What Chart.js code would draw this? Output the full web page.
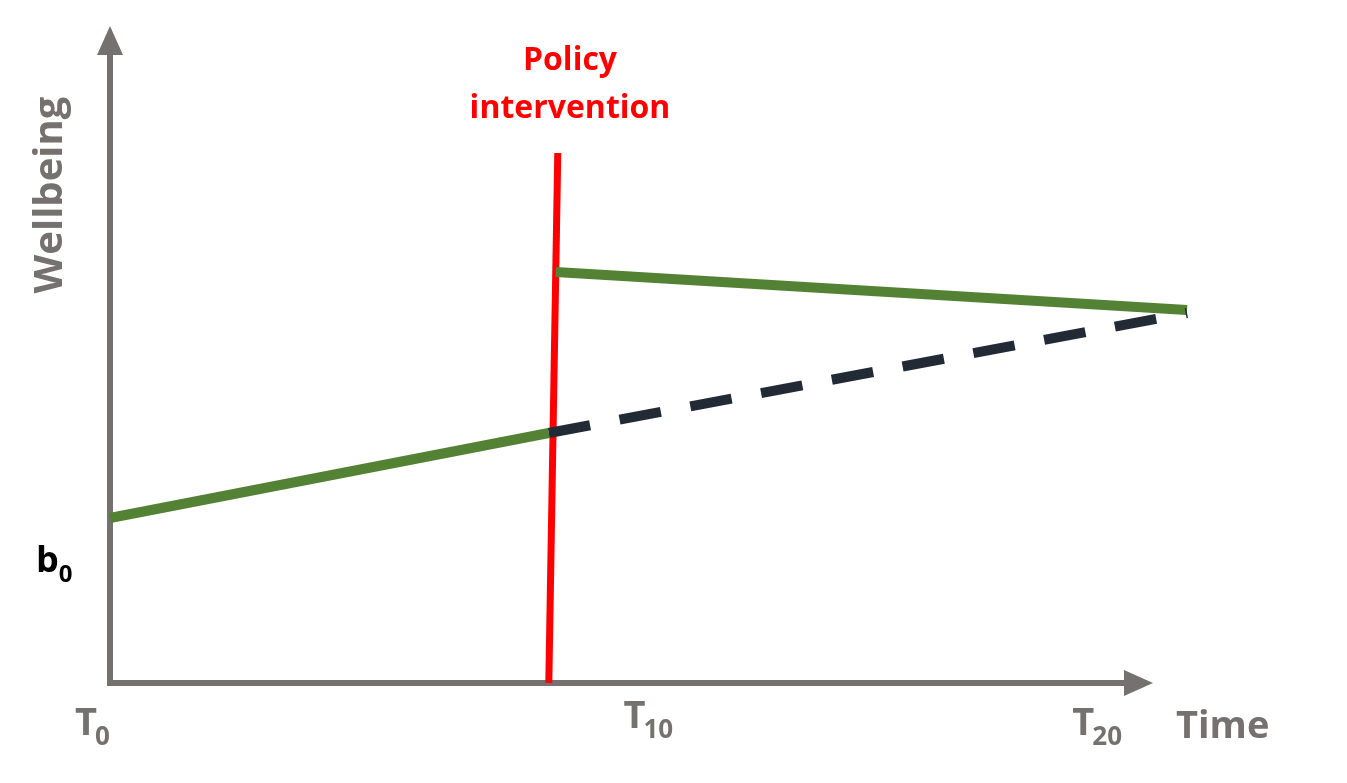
<!DOCTYPE html>
<html><head><meta charset="utf-8">
<script src="https://cdn.jsdelivr.net/npm/chart.js@4"></script>
<style>html,body{margin:0;padding:0;background:#fff}#w{width:1347px;height:783px}</style>
</head><body><div id="w"><canvas id="c"></canvas></div>
<script>
const preX = [0, 8.8];
const preY = [165, 250];
const postX = [8.94, 21.6];
const postY = [411, 373];
const cfX = [8.8, 21.6];
const cfY = [250, 370];
const policyX = [8.8, 8.98];
const policyY = [0, 530];
const tickVals = [0, 11, 20];
const tickMain = ['T', 'T', 'T'];
const tickSub = ['0', '10', '20'];
const xTitle = 'Time', yTitle = 'Wellbeing';
const policyLabel = ['Policy', 'intervention'];
const b0Value = 123;

const pts = (xs, ys) => xs.map((x, i) => ({x, y: ys[i]}));
const GRAY = '#767171';
const F = '"Open Sans", "Liberation Sans", sans-serif';

const deco = {
  id: 'deco',
  beforeDatasetsDraw(ch) {
    const c = ch.ctx, xs = ch.scales.x, ys = ch.scales.y;
    const x0 = xs.getPixelForValue(0), y0 = ys.getPixelForValue(0);
    c.save();
    c.strokeStyle = GRAY; c.fillStyle = GRAY; c.lineWidth = 6;
    c.beginPath(); c.moveTo(x0, y0); c.lineTo(x0, 50); c.stroke();
    c.beginPath(); c.moveTo(x0 - 3, y0); c.lineTo(1130, y0); c.stroke();
    c.beginPath(); c.moveTo(x0, 26); c.lineTo(x0 - 13, 55); c.lineTo(x0 + 13, 55); c.closePath(); c.fill();
    c.beginPath(); c.moveTo(1153, y0); c.lineTo(1124, y0 - 13); c.lineTo(1124, y0 + 13); c.closePath(); c.fill();
    c.restore();
  },
  afterDraw(ch) {
    const c = ch.ctx, xs = ch.scales.x, ys = ch.scales.y;
    c.save();
    // Ticks
    c.fillStyle = GRAY; c.textBaseline = 'alphabetic';
    tickVals.forEach((v, i) => {
      let px = xs.getPixelForValue(v) - 35;
      const by = i === 1 ? 728 : 735;
      c.font = 'bold 38px ' + F; c.textAlign = 'left';
      c.fillText(tickMain[i], px, by);
      const w = c.measureText(tickMain[i]).width;
      c.font = 'bold 26px ' + F;
      c.fillText(tickSub[i], px + w - 2, by + 10);
    });
    c.font = 'bold 38px ' + F; c.textAlign = 'left';
    c.fillText(xTitle, 1176, 738);
    c.save(); c.translate(62, 195); c.rotate(-Math.PI / 2);
    c.textAlign = 'center'; c.font = 'bold 40px ' + F; c.fillText(yTitle, 0, 0); c.restore();
    // b0
    c.fillStyle = '#000'; c.font = 'bold 36px ' + F; c.textAlign = 'left';
    const by = ys.getPixelForValue(b0Value);
    c.fillText('b', 36, by + 12);
    const bw = c.measureText('b').width;
    c.font = 'bold 24px ' + F; c.fillText('0', 36 + bw, by + 22);
    // policy label
    c.fillStyle = '#ff0000'; c.font = 'bold 32px ' + F; c.textAlign = 'center';
    c.fillText(policyLabel[0], 570, 70);
    c.fillText(policyLabel[1], 570, 118);
    c.restore();
  }
};

new Chart(document.getElementById('c'), {
  type: 'scatter',
  data: { datasets: [
    {data: pts(cfX, cfY), showLine: true, borderColor: '#222a35', borderWidth: 10, borderDash: [42, 30], pointRadius: 0, clip: false},
    {data: pts(preX, preY), showLine: true, borderColor: '#548235', borderWidth: 10, pointRadius: 0, clip: false},
    {data: pts(postX, postY), showLine: true, borderColor: '#548235', borderWidth: 10, pointRadius: 0, clip: false},
    {data: pts(policyX, policyY), showLine: true, borderColor: '#ff0000', borderWidth: 7, pointRadius: 0, clip: false}
  ]},
  options: {
    responsive: true, maintainAspectRatio: false, animation: false,
    layout: {padding: {left: 110, right: 140, top: 0, bottom: 100}},
    plugins: {legend: {display: false}, tooltip: {enabled: false}},
    scales: {
      x: {type: 'linear', min: 0, max: 22, display: false},
      y: {type: 'linear', min: 0, max: 683, display: false}
    }
  },
  plugins: [deco]
});
</script></body></html>
